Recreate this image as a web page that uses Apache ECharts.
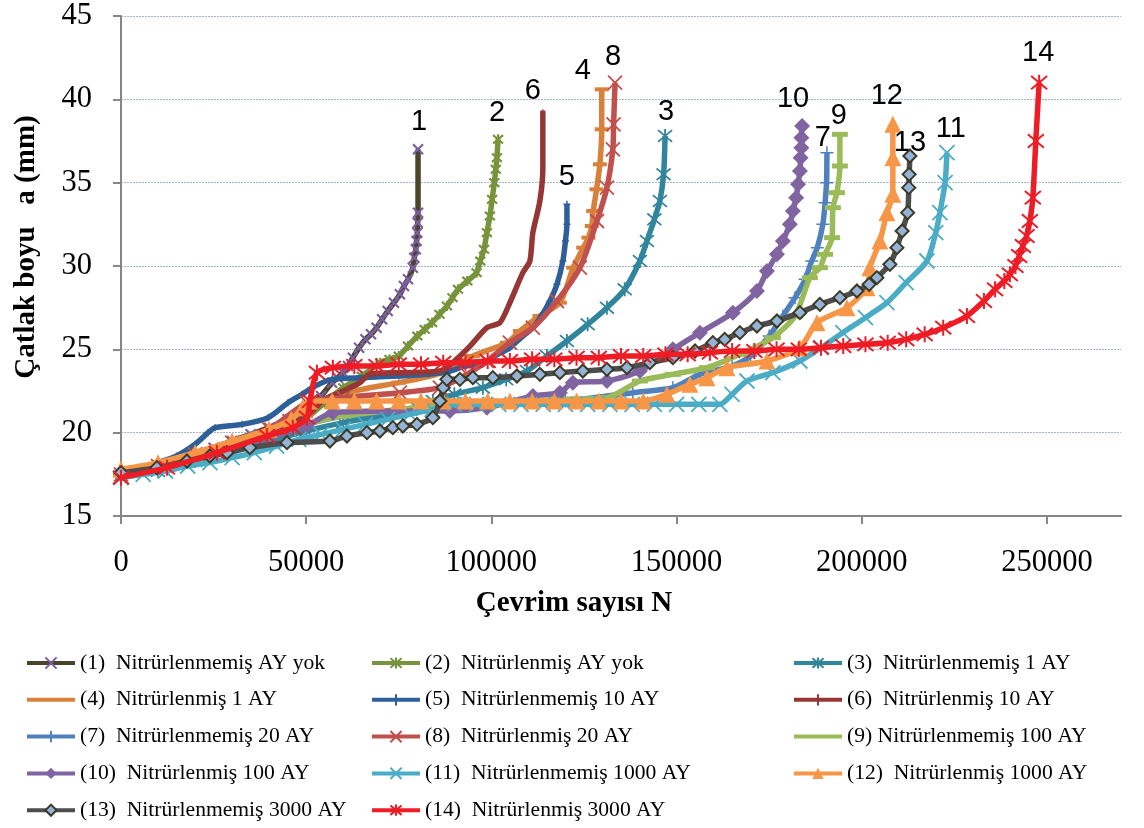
<!DOCTYPE html>
<html><head><meta charset="utf-8">
<script src="https://cdn.jsdelivr.net/npm/echarts@6/dist/echarts.min.js"></script>
<style>html,body{margin:0;padding:0;background:#fff}#c{width:1144px;height:828px}</style>
</head><body><div id="c"></div>
<script>
const seriesNames = [
  '(1)  Nitrürlenmemiş AY yok','(2)  Nitrürlenmiş AY yok','(3)  Nitrürlenmemiş 1 AY',
  '(4)  Nitrürlenmiş 1 AY','(5)  Nitrürlenmemiş 10 AY','(6)  Nitrürlenmiş 10 AY',
  '(7)  Nitrürlenmemiş 20 AY','(8)  Nitrürlenmiş 20 AY','(9) Nitrürlenmemiş 100 AY',
  '(10)  Nitrürlenmiş 100 AY','(11)  Nitrürlenmemiş 1000 AY','(12)  Nitrürlenmiş 1000 AY',
  '(13)  Nitrürlenmemiş 3000 AY','(14)  Nitrürlenmiş 3000 AY'
];
const endLabels = ['1','2','3','4','5','6','7','8','9','10','11','12','13','14'];
const xTicks = [0,50000,100000,150000,200000,250000];
const yTicks = [15,20,25,30,35,40,45];

const s1 = [[0,17.5],[5000,17.7],[10000,18.0],[15000,18.3],[20000,18.7],[25000,19.1],[30000,19.5],[35000,19.9],[40000,20.3],[45000,20.8],[50000,21.4],[54000,22.2],[57000,23.0],[58500,23.3],[60000,23.6],[61300,24.0],[62600,24.5],[64300,25.1],[66000,25.6],[67500,25.9],[69000,26.3],[70500,26.8],[72000,27.3],[73700,27.8],[75300,28.3],[76400,28.8],[77500,29.2],[78800,29.9],[79200,30.5],[79600,31.0],[79800,31.5],[80000,32.0],[80100,32.6],[80200,33.2],[80200,37.0]];
const s2 = [[0,17.4],[10000,17.9],[20000,18.6],[30000,19.3],[40000,20.0],[50000,20.9],[55000,21.8],[60000,22.7],[65000,23.4],[70000,24.2],[72500,24.4],[75000,24.6],[77500,25.2],[80000,25.8],[82000,26.2],[84000,26.6],[86000,27.1],[88000,27.6],[89500,28.1],[91000,28.6],[93500,29.1],[96000,29.6],[97000,30.3],[98000,31.0],[98800,32.0],[99600,33.0],[100200,34.0],[100800,35.0],[101200,35.8],[101500,36.5],[101800,37.6]];
const s3 = [[0,17.3],[10000,17.7],[20000,18.3],[30000,18.9],[40000,19.5],[50000,20.1],[60000,20.6],[70000,21.0],[80000,21.5],[84200,21.9],[90000,22.3],[97700,22.7],[104000,23.2],[109600,23.7],[115000,24.6],[120400,25.5],[126000,26.5],[131200,27.5],[136000,28.6],[140100,30.3],[142000,31.5],[144000,32.8],[145500,33.9],[146500,35.5],[146900,37.8]];
const s4 = [[0,17.5],[10000,18.0],[20000,18.6],[30000,19.3],[40000,20.0],[50000,21.0],[55000,22.0],[65000,22.6],[75000,23.0],[85000,23.5],[95000,24.6],[104200,25.4],[107700,26.1],[113000,27.0],[118500,27.8],[122100,29.9],[124800,31.1],[126200,31.7],[127100,32.4],[127500,33.3],[128400,34.6],[129300,36.1],[129800,38.2],[129800,40.6]];
const s5 = [[0,17.5],[5000,17.8],[10000,18.2],[15000,18.6],[20000,19.3],[23500,20.0],[25400,20.3],[32700,20.5],[39700,20.9],[45100,21.8],[48900,22.3],[52400,22.8],[57000,23.2],[65000,23.3],[75000,23.4],[83000,23.5],[88800,23.7],[93000,24.0],[97700,24.1],[101000,24.6],[105000,25.1],[108000,25.7],[111200,26.3],[113500,27.0],[115800,27.9],[117700,28.9],[119300,30.3],[120000,31.5],[120400,32.5],[120400,33.7]];
const s6 = [[0,17.5],[10000,18.0],[20000,18.6],[30000,19.3],[40000,20.0],[50000,21.0],[55000,22.0],[60000,22.5],[64500,23.0],[67000,23.5],[75300,23.6],[86000,23.7],[93400,25.0],[98800,26.3],[102300,26.6],[105000,27.8],[108500,29.6],[110400,30.3],[111200,32.0],[113100,33.9],[113900,35.9],[113900,39.3]];
const s7 = [[0,17.5],[10000,18.0],[20000,18.6],[30000,19.2],[40000,19.8],[50000,20.5],[60000,21.0],[80000,21.4],[100000,21.7],[120000,21.9],[138200,22.4],[149000,22.7],[156300,23.5],[165000,24.0],[170000,24.6],[175000,25.8],[178700,27.0],[182000,28.1],[184700,29.2],[186500,30.3],[188000,31.1],[189500,32.5],[190100,33.8],[190500,35.0],[190600,36.8]];
const s8 = [[0,17.5],[10000,18.0],[20000,18.7],[30000,19.4],[40000,20.2],[50200,21.8],[60000,22.1],[75300,22.4],[86100,22.7],[93400,23.5],[98800,24.3],[105000,25.4],[111200,26.3],[117700,27.9],[123900,29.9],[128500,32.7],[131200,34.7],[132800,37.0],[133000,38.5],[133400,41.0]];
const s9 = [[0,17.5],[10000,18.0],[20000,18.6],[30000,19.2],[40000,19.8],[50000,20.5],[60000,21.0],[80000,21.5],[100000,21.8],[120000,22.0],[131200,22.1],[140100,23.1],[149000,23.5],[158200,23.9],[167100,24.7],[176000,25.7],[182000,27.0],[186000,29.3],[188700,29.9],[190100,30.7],[192000,31.7],[192200,33.5],[193300,34.4],[194100,36.0],[194100,37.9]];
const s10 = [[0,17.5],[10000,17.9],[20000,18.4],[30000,19.0],[40000,19.7],[50000,20.4],[57200,21.2],[75300,21.3],[88800,21.3],[98800,21.5],[111200,22.2],[118500,22.4],[122000,23.0],[131200,23.1],[140100,23.7],[149000,25.0],[156300,26.0],[165200,27.2],[171700,28.5],[174400,29.7],[177100,30.7],[178700,31.5],[180600,32.5],[181400,33.3],[182300,34.1],[182800,34.9],[183300,35.7],[183500,36.5],[183700,37.1],[183700,37.7],[183900,38.4]];
const s11 = [[0,17.3],[6000,17.5],[12000,17.7],[18000,18.0],[24000,18.2],[30000,18.5],[36000,18.8],[42000,19.2],[48000,19.6],[54000,19.9],[60000,20.2],[66000,20.5],[72000,20.8],[78000,21.1],[84000,21.4],[90000,21.7],[96000,21.7],[102000,21.7],[108000,21.7],[114000,21.7],[120000,21.7],[126000,21.7],[132000,21.7],[138000,21.7],[144000,21.7],[150000,21.7],[156000,21.7],[161700,21.7],[165000,22.3],[169000,23.1],[176000,23.6],[183300,24.3],[189000,25.1],[194900,26.0],[201000,26.9],[206800,27.8],[212000,29.0],[217600,30.3],[220000,32.0],[221100,33.2],[222500,35.0],[223000,36.8]];
const s12 = [[0,17.8],[10000,18.2],[20000,18.8],[30000,19.5],[40000,20.2],[46000,20.8],[49000,21.5],[51000,21.9],[57000,21.9],[63000,21.9],[69000,21.9],[75000,21.9],[81000,21.9],[87000,21.9],[93000,21.9],[99000,21.9],[105000,21.9],[111000,21.9],[117000,21.9],[123000,21.9],[129000,21.9],[135000,21.9],[141000,21.9],[147400,22.3],[153600,22.9],[158200,23.3],[163600,23.9],[174400,24.3],[183300,25.1],[187900,26.6],[196000,27.5],[201400,28.7],[202200,29.9],[204900,31.5],[206800,33.2],[208400,34.3],[208400,36.5],[208400,38.5]];
const s13 = [[0,17.6],[9700,17.9],[17800,18.3],[24000,18.6],[28600,18.8],[34800,19.1],[44800,19.4],[56400,19.5],[61000,19.8],[66400,20.0],[69900,20.1],[73400,20.3],[76100,20.4],[79900,20.5],[84200,20.9],[86100,21.9],[87000,22.7],[88000,23.2],[91500,23.2],[95000,23.3],[100400,23.3],[106900,23.4],[113100,23.5],[118500,23.6],[124700,23.7],[131200,23.8],[136600,23.9],[142800,24.2],[149000,24.5],[155000,24.9],[159800,25.4],[163000,25.6],[167100,26.0],[171700,26.4],[177100,26.7],[183300,27.2],[188700,27.7],[194100,28.1],[198700,28.5],[202000,28.9],[204100,29.3],[207600,30.1],[209500,31.1],[210900,32.1],[212400,33.2],[212700,34.7],[212800,35.5],[213000,36.6]];
const s14 = [[0,17.3],[12400,17.9],[25900,18.8],[39400,19.8],[46400,20.3],[50200,20.9],[51000,21.9],[52900,23.6],[57200,23.9],[63000,24.0],[69000,24.0],[75000,24.1],[81000,24.1],[87000,24.2],[93000,24.2],[99000,24.3],[105000,24.3],[111000,24.4],[117000,24.4],[123000,24.5],[129000,24.5],[135000,24.6],[141000,24.6],[147000,24.7],[153000,24.7],[159000,24.8],[165000,24.9],[171000,24.9],[177000,25.0],[183000,25.0],[189000,25.1],[195000,25.2],[201000,25.3],[207000,25.4],[212000,25.6],[217000,25.9],[222000,26.3],[228400,27.0],[233000,27.9],[236000,28.6],[238500,29.1],[240000,29.5],[241500,30.0],[242500,30.6],[243500,31.2],[244500,31.8],[245400,32.7],[246200,34.1],[247000,37.5],[247900,41.0]];

const allData = [s1,s2,s3,s4,s5,s6,s7,s8,s9,s10,s11,s12,s13,s14];

// styles
const X = 'path://M0,0L10,10M10,0L0,10';
const STAR = 'path://M0,0L10,10M10,0L0,10M5,-1L5,11';
const PLUS = 'path://M5,0L5,10M0,5L10,5';
const lineColors = ['#4A452A','#77933C','#31859C','#D9803A','#2F5F98','#953735','#4F81BD','#C0504D','#9BBB59','#8064A2','#4BACC6','#F79646','#4D4D4D','#EE1C25'];
const markColors = ['#7B5FA0','#77933C','#31859C','#D9803A','#2F5F98','#953735','#4F81BD','#C0504D','#9BBB59','#8064A2','#4BACC6','#F79646','#95B3D7','#EE1C25'];
const symbols = [X,STAR,STAR,'rect',PLUS,PLUS,PLUS,X,'rect','diamond',X,'triangle','diamond',STAR];
const symbolSizes = [10,10,14,[14,4],7,4,13,14,[16,5],16,15,17,13,16];
const borderWidths = [2.2,2.2,1.8,0,1.5,1,1.5,1.8,0,0,1.8,0,2,2];
const borderColors = ['#7B5FA0','#77933C','#31859C','#D9803A','#2F5F98','#953735','#4F81BD','#C0504D','#9BBB59','#8064A2','#4BACC6','#F79646','#3B3A26','#EE1C25'];
const labelOffsets = [[1,-27],[-1,-26],[1,-24],[-19,-18],[0,-27],[-10,-20],[-4,-15],[-2,-26],[-1,-18],[-9,-27],[4,-24],[-6,-28],[0,-13],[-1,-30]];
const legendHideMarker = [3, 8];

const series = allData.map((d, k) => ({
  name: seriesNames[k],
  type: 'line',
  smooth: 0.25,
  data: d.map((p, i) => i === d.length - 1 ? {
    value: p,
    label: { show: true, formatter: endLabels[k], position: 'inside', offset: labelOffsets[k],
      color: '#000', fontFamily: 'Liberation Sans', fontSize: 29 }
  } : p),
  symbol: symbols[k],
  symbolSize: symbolSizes[k],
  showAllSymbol: true,
  lineStyle: { color: lineColors[k], width: 5.5 },
  itemStyle: { color: markColors[k], borderColor: borderColors[k], borderWidth: borderWidths[k] },
  emphasis: { disabled: true },
  z: 2 + k
}));

const legendText = { fontFamily: 'Liberation Serif', fontSize: 21.6, color: '#000', lineHeight: 22 };
const mkLegend = (idx, left) => ({
  data: idx.map(i => legendHideMarker.includes(i) ? { name: seriesNames[i], itemStyle: { opacity: 0 } } : seriesNames[i]),
  orient: 'vertical', left: left, top: 652, padding: 0,
  height: 176, itemWidth: 48, itemHeight: 14, itemGap: 14.8, textStyle: legendText, selectedMode: false,
  lineStyle: { width: 4 }
});

const option = {
  animation: false,
  backgroundColor: '#fff',
  grid: { left: 121, right: 23, top: 16, bottom: 312 },
  xAxis: {
    type: 'value', min: 0, max: 270000, interval: 50000,
    axisLine: { lineStyle: { color: '#868686', width: 2 } },
    axisTick: { show: true, length: 8, lineStyle: { color: '#868686', width: 2 }, customValues: xTicks },
    axisLabel: { margin: 31, fontFamily: 'Liberation Serif', fontSize: 30.5, color: '#000', customValues: xTicks,
      formatter: v => String(v) },
    splitLine: { show: false }
  },
  yAxis: {
    type: 'value', min: 15, max: 45, interval: 5,
    axisLine: { show: true, lineStyle: { color: '#868686', width: 2 } },
    axisTick: { show: true, length: 8, lineStyle: { color: '#868686', width: 2 } },
    axisLabel: { margin: 29, fontFamily: 'Liberation Serif', fontSize: 30.5, color: '#000', formatter: v => String(v) },
    splitLine: { show: true, lineStyle: { color: '#A3B4CE', width: 1, type: [2, 1] } }
  },
  legend: [
    mkLegend([0,3,6,9,12], 25),
    mkLegend([1,4,7,10,13], 370),
    mkLegend([2,5,8,11], 792)
  ],
  graphic: [
    { type: 'text', x: 574, y: 604, style: { text: 'Çevrim sayısı N', font: 'bold 29px "Liberation Serif"', fill: '#000', textAlign: 'center', textVerticalAlign: 'middle' } },
    { type: 'text', x: 27, y: 247, rotation: Math.PI / 2, style: { text: 'Çatlak boyu   a (mm)', font: 'bold 29px "Liberation Serif"', fill: '#000', textAlign: 'center', textVerticalAlign: 'middle' } }
  ],
  series: series
};
const chart = echarts.init(document.getElementById('c'), null, { renderer: 'canvas' });
chart.setOption(option);
</script>
</body></html>
